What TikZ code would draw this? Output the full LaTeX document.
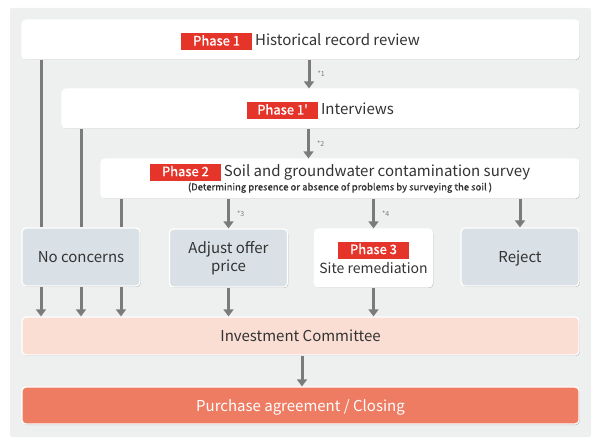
\documentclass[tikz,border=0pt]{standalone}
\usepackage{fontspec}
\setmainfont{Noto Sans CJK JP}
\newfontfamily\tagfont[FakeBold=1]{Noto Sans CJK JP}
\newfontfamily\subfont[FakeBold=0.6]{Noto Sans CJK JP}
\usetikzlibrary{arrows.meta,shadows,calc}

\definecolor{panelgray}{HTML}{EEEFEF}
\definecolor{rowgray}{HTML}{D9E1E7}
\definecolor{phasered}{HTML}{E5352B}
\definecolor{icpeach}{HTML}{FADED4}
\definecolor{pcorange}{HTML}{EE7C62}
\definecolor{flowgray}{HTML}{7B7B7B}
\definecolor{txt}{HTML}{333333}

\newcommand\phasetag[1]{{\setlength{\fboxsep}{0pt}\colorbox{phasered}{\makebox[71pt]{\rule[-4.5pt]{0pt}{16.5pt}\color{white}\tagfont\fontsize{13}{13}\selectfont #1}}}}

\tikzset{
  box/.style={rounded corners=4pt, inner sep=0pt, align=center, text=txt,
    draw=white, line width=1.2pt,
    drop shadow={shadow xshift=0.8pt, shadow yshift=-1pt, opacity=0.22, fill=black}},
  whitebox/.style={box, fill=white},
  graybox/.style={box, fill=rowgray, minimum width=118, minimum height=58,
    font=\fontsize{15}{18}\selectfont},
  oneline/.style={text depth=0pt},
  flow/.style={draw=flowgray, line width=3pt},
  arr/.style={flow, -{Triangle[width=10pt,length=7pt]}},
  note/.style={right, xshift=6pt, inner sep=1pt, text=flowgray, font=\fontsize{7}{7}\selectfont}
}

\begin{document}
\begin{tikzpicture}[x=1pt,y=-1pt]
\useasboundingbox (0,0) rectangle (600,446);
\fill[panelgray, rounded corners=2pt] (10,8) rectangle (591,437);

% phases
\node[whitebox, oneline, minimum width=557, minimum height=39, font=\fontsize{15}{15}\selectfont] (ph1) at (300.5,39.5)
  {\phasetag{Phase 1}\hspace{3pt}Historical record review};
\node[whitebox, oneline, minimum width=517, minimum height=39, font=\fontsize{15}{15}\selectfont] (ph1b) at (320.5,108.5)
  {\phasetag{Phase 1'}\hspace{3pt}Interviews};
\node[whitebox, minimum width=478, minimum height=39] (ph2) at (340,178.5)
  {\fontsize{15}{15}\selectfont\phasetag{Phase 2}\hspace{3pt}Soil and groundwater contamination survey\\[1pt]
   {\subfont\fontsize{9.5}{10}\selectfont (Determining presence or absence of problems by surveying the soil )}};

% outcomes
\node[graybox, oneline] (nc) at (81,257) {No concerns};
\node[graybox] (adj) at (228.5,258) {Adjust offer\\price};
\node[graybox, fill=white, font=\fontsize{14}{14}\selectfont] (ph3) at (373.5,258) {\phasetag{Phase 3}\\[3pt]Site remediation};
\node[graybox, oneline] (rej) at (520,257) {Reject};

\node[box, oneline, fill=icpeach, minimum width=557, minimum height=38, font=\fontsize{15}{15}\selectfont] (ic) at (300.5,336) {Investment Committee};
\node[box, oneline, fill=pcorange, text=white, minimum width=557, minimum height=37, font=\fontsize{15}{15}\selectfont] (pc) at (300.5,405.5) {Purchase agreement / Closing};

% connectors
\draw[arr] ([xshift=8.5pt]ph1.south) -- node[note]{*1} ([xshift=8.5pt]ph1.south |- ph1b.north);
\draw[arr] ([xshift=-12pt]ph1b.south) -- node[note]{*2} ([xshift=-12pt]ph1b.south |- ph2.north);

\foreach \dx/\src in {-40/ph1, 0/ph1b, 40/ph2}{
  \draw[flow] ([xshift=\dx pt]nc.north |- \src.south) -- ([xshift=\dx pt]nc.north);
  \draw[arr] ([xshift=\dx pt]nc.south) -- ([xshift=\dx pt]nc.south |- ic.north);
}
\draw[arr] (ph2.south -| adj.north) -- node[note]{*3} (adj.north);
\draw[arr] (ph2.south -| ph3.north) -- node[note]{*4} (ph3.north);
\draw[arr] (ph2.south -| rej.north) -- (rej.north);
\draw[arr] (adj.south) -- (adj.south |- ic.north);
\draw[arr] (ph3.south) -- (ph3.south |- ic.north);
\draw[arr] ([xshift=1.5pt]ic.south) -- ([xshift=1.5pt]ic.south |- pc.north);
\end{tikzpicture}
\end{document}
